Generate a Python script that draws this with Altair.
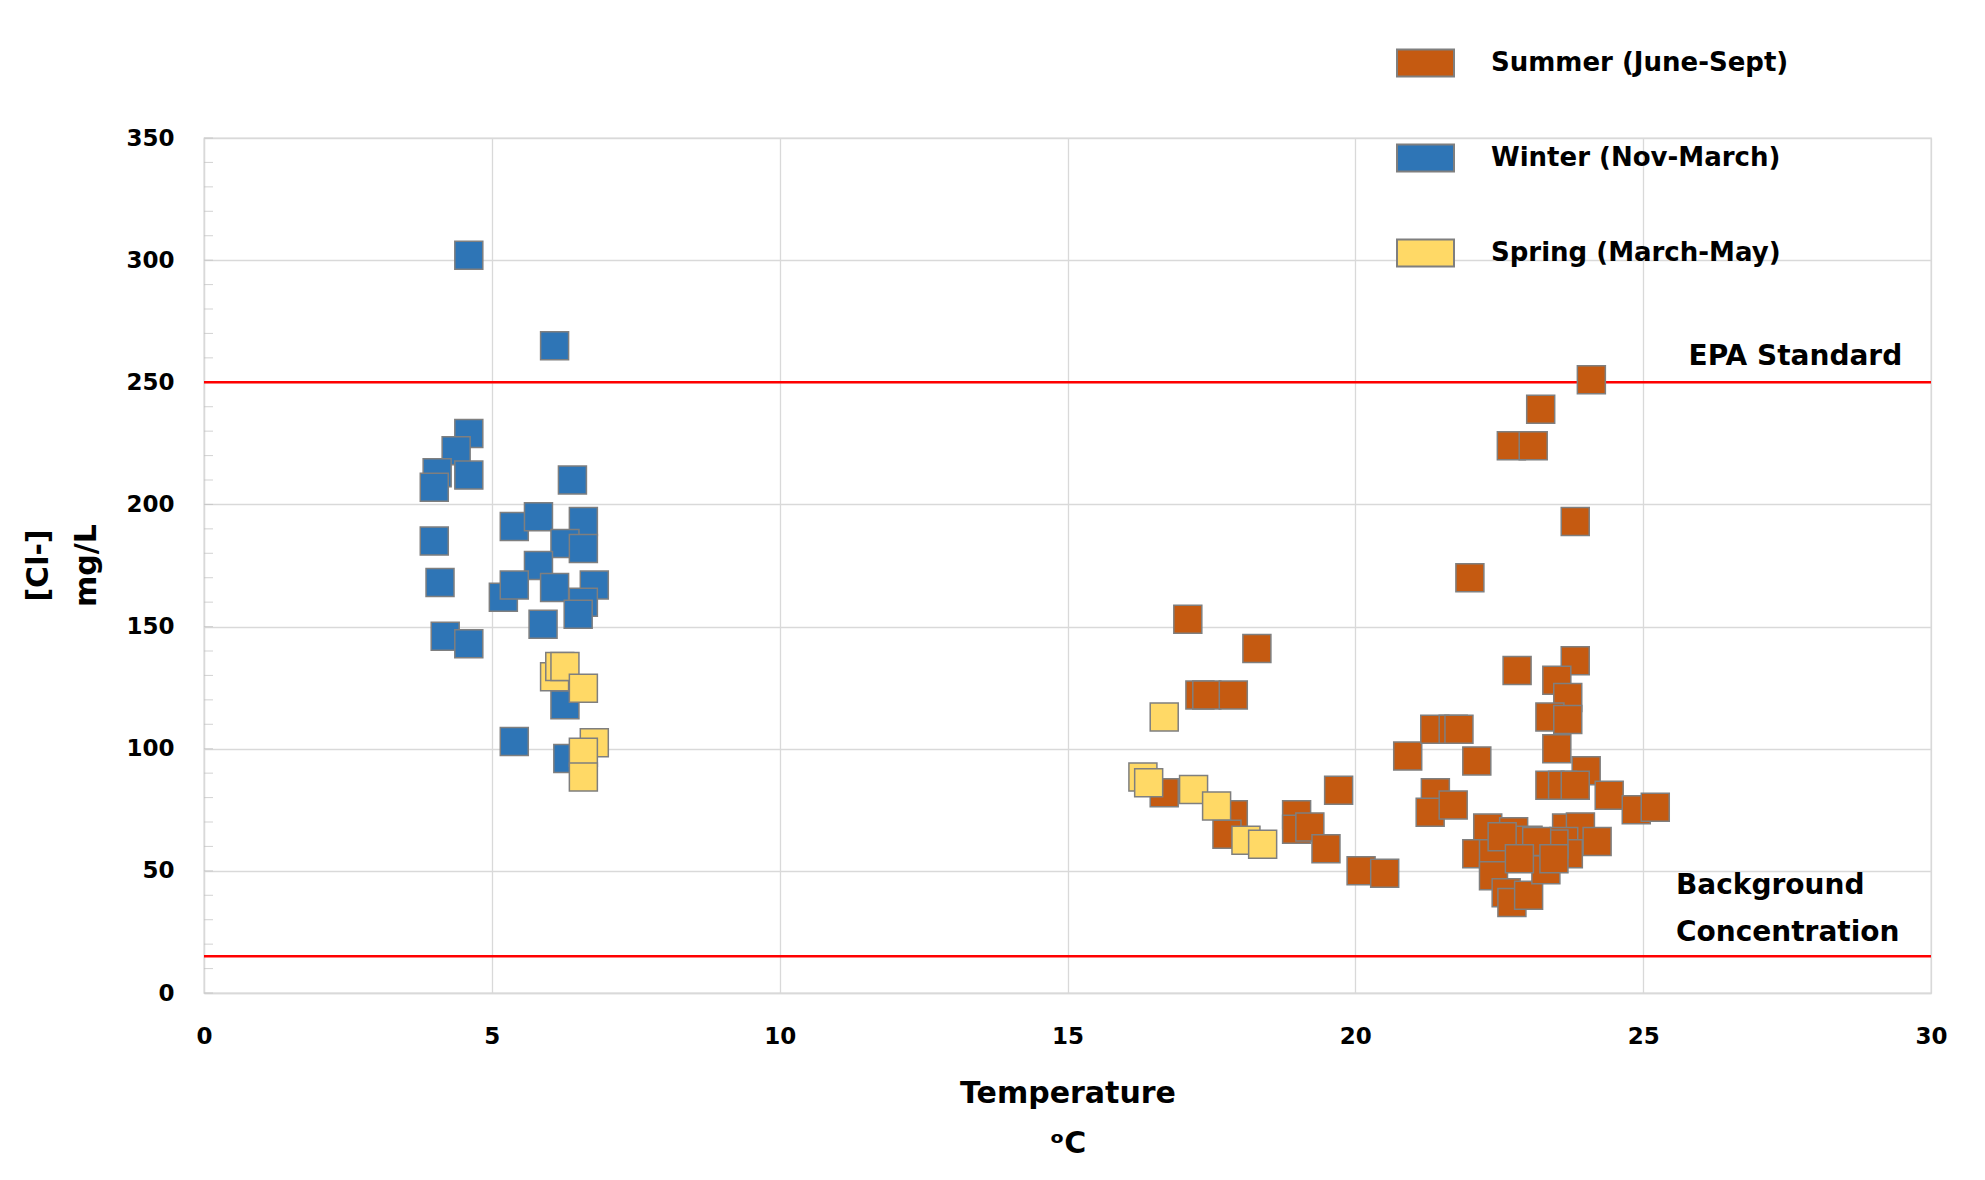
import altair as alt
import pandas as pd

# ---------------- data ----------------
series_names = ["Summer (June-Sept)", "Winter (Nov-March)", "Spring (March-May)"]
series_colors = ["#C55A11", "#2E75B6", "#FFD966"]

summer_x = [17.09, 18.29, 17.30, 17.42, 17.88, 21.99, 16.68, 17.88, 17.77, 18.98,
            18.98, 19.21, 19.49, 19.71, 20.10, 20.51, 20.91, 21.38, 21.70, 21.80,
            22.11, 21.39, 21.30, 21.70,
            24.10, 23.22, 22.71, 23.09, 23.82, 23.82, 22.81, 23.50, 23.69, 23.38,
            23.69, 23.50, 24.01, 23.38, 23.60, 23.82, 24.41, 24.88, 25.21,
            22.30, 22.11, 22.40, 22.75, 22.92, 23.00, 22.40, 22.62, 22.72, 23.01,
            23.31, 23.67, 23.91, 23.62, 24.20, 23.70, 23.45, 23.15, 23.45, 22.55, 22.85]
summer_y = [153, 141, 122, 122, 122, 170, 82, 73, 65, 73,
            67, 68, 59, 83, 50, 49, 97, 108, 108, 108,
            95, 82, 74, 77,
            251, 239, 224, 224, 193, 136, 132, 128, 121, 113,
            112, 100, 91, 85, 85, 85, 81, 75, 76,
            67.5, 57, 57, 66, 60, 62.5, 48, 41, 37, 40,
            50.5, 67.5, 68, 62, 62, 57, 61, 62, 55, 64, 55]

winter_x = [4.60, 6.09, 4.60, 4.38, 4.05, 4.60, 4.00, 6.40, 5.39, 5.81,
            6.59, 4.00, 6.27, 6.59, 5.81, 4.10, 5.20, 5.39, 6.09, 6.78,
            6.59, 6.50, 5.89, 4.19, 4.60, 6.27, 5.39, 6.32]
winter_y = [302, 265, 229, 222, 213, 212, 207, 210, 191, 195,
            193, 185, 184, 182, 175, 168, 162, 167, 166, 167,
            160, 155, 151, 146, 143, 118, 103, 96]

spring_x = [6.09, 6.18, 6.27, 6.59, 6.78, 6.59, 6.59,
            16.68, 16.31, 16.41, 17.19, 17.59, 18.10, 18.39]
spring_y = [129.5, 133.7, 133.7, 124.8, 102.4, 98.6, 88.4,
            113, 88.4, 86.1, 83.3, 76.6, 62.5, 60.9]

x_ticks = [0, 5, 10, 15, 20, 25, 30]
y_ticks = [0, 50, 100, 150, 200, 250, 300, 350]
minor_y_ticks = list(range(0, 351, 10))
reference_levels = [250, 15]

annotation_text = ["EPA Standard", "Background\nConcentration"]
annotation_x = [29.5, 25.57]
annotation_y = [260.5, 44]
annotation_align = ["right", "left"]

# ---------------- tables ----------------
rows = []
for name, xs, ys in zip(series_names, [summer_x, winter_x, spring_x],
                        [summer_y, winter_y, spring_y]):
    for xv, yv in zip(xs, ys):
        rows.append({"Temperature": xv, "Cl": yv, "Season": name})
df = pd.DataFrame(rows)
df["draw_order"] = range(len(df))

FONT = "DejaVu Sans"
GRID = "#D9D9D9"

x_scale = alt.Scale(domain=[0, 30], nice=False, zero=False)
y_scale = alt.Scale(domain=[0, 350], nice=False, zero=False)

points = alt.Chart(df).mark_square(
    size=784, stroke="#7F7F7F", strokeWidth=1.5, opacity=1
).encode(
    x=alt.X("Temperature:Q", scale=x_scale,
            axis=alt.Axis(values=x_ticks, format="d", labelFlush=False,
                          grid=True, gridColor=GRID, gridWidth=1.3,
                          domainColor=GRID, domainWidth=1.3, ticks=False, tickSize=0,
                          labelFont=FONT, labelFontSize=23, labelFontWeight="bold",
                          labelColor="black", labelPadding=43, labelBaseline="middle",
                          title=["Temperature", "ᵒC"], titleFont=FONT, titleFontSize=30,
                          titleFontWeight="bold", titleColor="black", titleLineHeight=50,
                          titleBaseline="middle", titleY=100, titleX=863.5,
                          titleAlign="center")),
    y=alt.Y("Cl:Q", scale=y_scale,
            axis=alt.Axis(values=y_ticks, format="d",
                          grid=True, gridColor=GRID, gridWidth=1.3,
                          domainColor=GRID, domainWidth=1.3, ticks=False, tickSize=0,
                          labelFont=FONT, labelFontSize=23, labelFontWeight="bold",
                          labelColor="black", labelPadding=30,
                          title=["[Cl-]", "mg/L"], titleFont=FONT, titleFontSize=30,
                          titleFontWeight="bold", titleColor="black", titleLineHeight=48,
                          titleAngle=270, titleAlign="center", titleBaseline="middle",
                          titleX=-166, titleY=427)),
    color=alt.Color("Season:N", scale=alt.Scale(domain=series_names, range=series_colors),
                    legend=alt.Legend(title=None, orient="none", legendX=1192, legendY=-104.5,
                                      direction="vertical",
                                      symbolType="M-1,-0.47L1,-0.47L1,0.47L-1,0.47Z",
                                      symbolSize=3249, symbolStrokeColor="#7F7F7F",
                                      symbolStrokeWidth=2, symbolOpacity=1,
                                      labelFont=FONT, labelFontSize=26, labelFontWeight="bold",
                                      labelColor="black", labelOffset=36, rowPadding=48,
                                      padding=0, labelLimit=0)),
    order=alt.Order("draw_order:Q"),
)

minor = alt.Chart(pd.DataFrame({"m": minor_y_ticks})).mark_tick(
    orient="horizontal", size=9, thickness=1, color="#BFBFBF"
).encode(y=alt.Y("m:Q", scale=y_scale), x=alt.value(4.5))

rules = alt.Chart(pd.DataFrame({"level": reference_levels})).mark_rule(
    color="#FF0000", strokeWidth=2.5
).encode(y=alt.Y("level:Q", scale=y_scale))

ann_df = pd.DataFrame({"x": annotation_x, "y": annotation_y, "text": annotation_text,
                       "align": annotation_align})
ann_right = alt.Chart(ann_df[ann_df["align"] == "right"]).mark_text(
    align="right", baseline="middle", font=FONT, fontSize=28, fontWeight="bold",
    color="black"
).encode(x=alt.X("x:Q", scale=x_scale), y=alt.Y("y:Q", scale=y_scale), text="text:N")
ann_left = alt.Chart(ann_df[ann_df["align"] == "left"]).mark_text(
    align="left", baseline="middle", font=FONT, fontSize=28, fontWeight="bold",
    color="black", lineBreak="\n", lineHeight=47
).encode(x=alt.X("x:Q", scale=x_scale), y=alt.Y("y:Q", scale=y_scale), text="text:N")

chart = alt.layer(minor, rules, points, ann_right, ann_left).properties(
    width=1727, height=855,
    padding={"left": 196, "top": 130, "right": 40, "bottom": 180},
    autosize=alt.AutoSizeParams(type="none"),
    background="white",
).configure_view(stroke=GRID, strokeWidth=1.3)

chart.save("out.html", embed_options={"renderer": "svg", "actions": False})
